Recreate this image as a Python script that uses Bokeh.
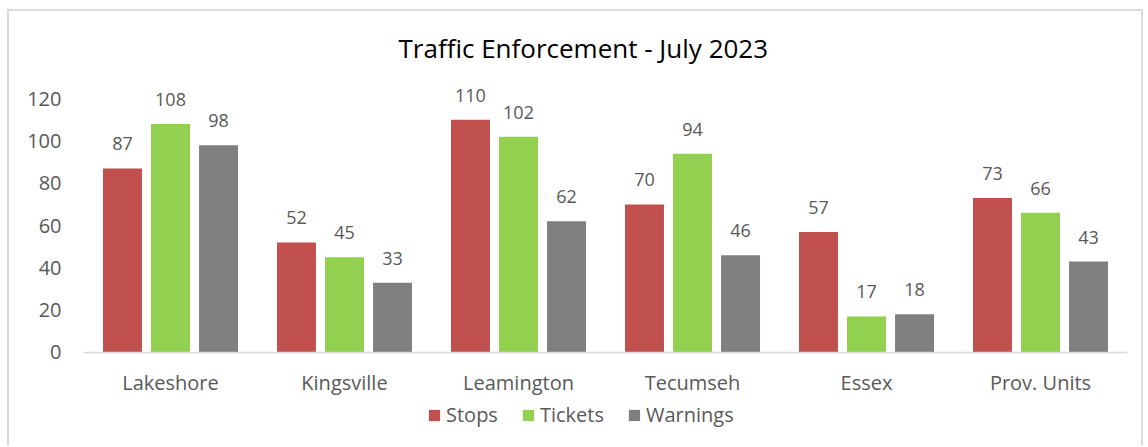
from bokeh.plotting import figure
from bokeh.models import ColumnDataSource, FactorRange, Range1d, FixedTicker, LabelSet, Legend
from bokeh.transform import dodge
from bokeh.core.properties import value
from bokeh.embed import file_html
from bokeh.resources import INLINE

categories = ["Lakeshore", "Kingsville", "Leamington", "Tecumseh", "Essex", "Prov. Units"]
stops = [87, 52, 110, 70, 57, 73]
tickets = [108, 45, 102, 94, 17, 66]
warnings = [98, 33, 62, 46, 18, 43]
series_names = ["Stops", "Tickets", "Warnings"]
y_ticks = [0, 20, 40, 60, 80, 100, 120]

colors = ["#C0504D", "#92D050", "#7F7F7F"]
FONT = "Open Sans"
TXT = "#595959"

src = ColumnDataSource(dict(cat=categories, Stops=stops, Tickets=tickets, Warnings=warnings))

p = figure(
    x_range=FactorRange(*categories, range_padding=0),
    y_range=Range1d(-44, 130),
    width=1136, height=436,
    output_backend="svg", toolbar_location=None,
    min_border_left=74, min_border_right=18, min_border_top=66, min_border_bottom=2,
    title="Traffic Enforcement - July 2023",
)
p.styles = {"border-top": "2px solid #d9d9d9", "border-left": "2px solid #d9d9d9",
            "border-right": "2px solid #d9d9d9", "margin-left": "7px", "margin-top": "9px"}

p.title.align = "left"
p.title.text_font = FONT
p.title.text_font_size = "26px"
p.title.text_font_style = "normal"
p.title.text_color = "#000000"
p.title.offset = 315
p.title.standoff = 23

offsets = [-0.276, 0.0, 0.276]
legend_items = []
for name, col, off in zip(series_names, colors, offsets):
    r = p.vbar(x=dodge("cat", off, range=p.x_range), top=name, width=0.224, source=src,
               fill_color=col, line_color=None)
    legend_items.append((name, [r]))
    lbl = LabelSet(x=dodge("cat", off, range=p.x_range), y=name, text=name, source=src,
                   text_align="center", text_baseline="alphabetic", y_offset=18,
                   text_font=value(FONT), text_font_size=value("18px"), text_color=TXT)
    p.add_layout(lbl)

p.xgrid.grid_line_color = None
p.ygrid.grid_line_color = None
p.outline_line_color = None
p.background_fill_color = "white"
p.border_fill_color = "white"

p.yaxis.ticker = FixedTicker(ticks=y_ticks)
p.yaxis.axis_line_color = None
p.yaxis.major_tick_line_color = None
p.yaxis.minor_tick_line_color = None
p.yaxis.major_tick_out = 0
p.yaxis.major_tick_in = 0
p.yaxis.major_label_standoff = 22
p.yaxis.major_label_text_font = FONT
p.yaxis.major_label_text_font_size = "20px"
p.yaxis.major_label_text_color = TXT

p.xaxis.fixed_location = 0
p.xaxis.axis_line_color = "#d9d9d9"
p.xaxis.axis_line_width = 1.5
p.xaxis.major_tick_line_color = None
p.xaxis.minor_tick_line_color = None
p.xaxis.major_tick_out = 0
p.xaxis.major_tick_in = 0
p.xaxis.major_label_standoff = 17
p.xaxis.major_label_text_font = FONT
p.xaxis.major_label_text_font_size = "20px"
p.xaxis.major_label_text_color = TXT

legend = Legend(items=legend_items, orientation="horizontal", location=(344, 17),
                glyph_width=14, glyph_height=14, label_standoff=5, spacing=23,
                padding=0, margin=0, border_line_color=None, background_fill_alpha=0,
                label_text_font=FONT, label_text_font_size="20px", label_text_color=TXT)
p.add_layout(legend, "center")

open("out.html", "w").write(file_html(p, INLINE))
